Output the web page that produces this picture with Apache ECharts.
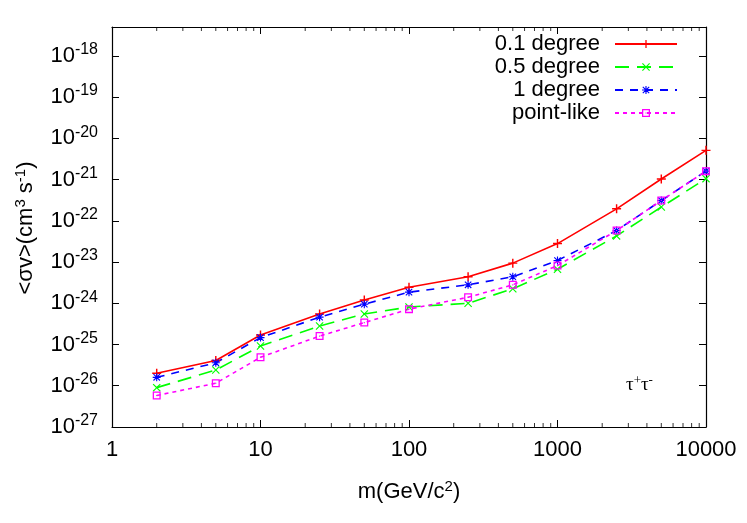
<!DOCTYPE html>
<html>
<head>
    <meta charset="utf-8">
    <title>sigma v limits</title>
    <script src="https://cdn.jsdelivr.net/npm/echarts@6.0.0/dist/echarts.min.js"></script>
</head>
<body style="margin:0">
    <div id="main" style="width: 747px;height:523px;"></div>
    <script type="text/javascript">
        // masses (GeV/c^2)
        var masses = [2, 5, 10, 25, 50, 100, 250, 500, 1000, 2500, 5000, 10000];
        // upper limits on <sigma v> (cm^3 s^-1)
        var deg01 = [2.0e-26, 4.1e-26, 1.7e-25, 5.5e-25, 1.2e-24, 2.45e-24, 4.4e-24, 9.4e-24, 2.8e-23, 1.95e-22, 1.03e-21, 5.1e-21];
        var deg05 = [9.0e-27, 2.4e-26, 9.2e-26, 2.8e-25, 5.5e-25, 8.1e-25, 1.0e-24, 2.24e-24, 6.7e-24, 4.3e-23, 2.15e-22, 1.05e-21];
        var deg1 = [1.6e-26, 3.6e-26, 1.47e-25, 4.6e-25, 9.5e-25, 1.86e-24, 2.8e-24, 4.4e-24, 1.09e-23, 5.8e-23, 3.1e-22, 1.6e-21];
        var pointLike = [5.8e-27, 1.15e-26, 4.9e-26, 1.6e-25, 3.4e-25, 7.2e-25, 1.4e-24, 2.8e-24, 8.2e-24, 5.8e-23, 3.1e-22, 1.6e-21];
        var seriesNames = ['0.1 degree', '0.5 degree', '1 degree', 'point-like'];
        // minor ticks of the mass axis
        var minorX = [2, 3, 4, 5, 6, 7, 8, 9, 20, 30, 40, 50, 60, 70, 80, 90,
                      200, 300, 400, 500, 600, 700, 800, 900, 2000, 3000, 4000, 5000, 6000, 7000, 8000, 9000];
        var xMin = 1, xMax = 10000;
        // a hair below 1e-27 so the 10^-27 tick is kept as a regular tick
        var yMin = 0.999e-27, yMax = 5e-18;

        var font = '"Liberation Sans", Arial, sans-serif';
        var serif = '"Liberation Serif", serif';
        var plusPath = 'path://M4.2,0H5.8V4.2H10V5.8H5.8V10H4.2V5.8H0V4.2H4.2Z';
        var crossPath = 'path://M0,1L1,0L5,4L9,0L10,1L6,5L10,9L9,10L5,6L1,10L0,9L4,5Z';
        var starPath = 'path://M4.3,0H5.7V4.3H10V5.7H5.7V10H4.3V5.7H0V4.3H4.3Z M0.5,1.5L1.5,0.5L5,4L8.5,0.5L9.5,1.5L6,5L9.5,8.5L8.5,9.5L5,6L1.5,9.5L0.5,8.5L4,5Z';
        var boxPath = 'path://M0,0H10V10H0Z M1.6,1.6V8.4H8.4V1.6Z M4.3,4.3H5.7V5.7H4.3Z';

        function pairs(ys) {
            return masses.map(function (m, i) { return [m, ys[i]]; });
        }
        function expOf(v) {
            var e = Math.log10(v);
            var r = Math.round(e);
            return Math.abs(e - r) < 1e-3 ? r : null;
        }

        var myChart = echarts.init(document.getElementById('main'));

        var tickStyle = { show: true, inside: true, length: 7, lineStyle: { color: '#000', width: 1 } };
        var lineAx = { show: true, onZero: false, lineStyle: { color: '#000', width: 1.2 } };

        var lineSeries = [
            { data: deg01, color: '#ff0000', dash: 'solid', symbol: plusPath, size: 9 },
            { data: deg05, color: '#00ff00', dash: [14, 8], symbol: crossPath, size: 8 },
            { data: deg1, color: '#0000ff', dash: [8, 7], symbol: starPath, size: 8 },
            { data: pointLike, color: '#ff00ff', dash: [4, 4], symbol: boxPath, size: 8 }
        ].map(function (s, i) {
            return {
                name: seriesNames[i],
                type: 'line',
                data: pairs(s.data),
                symbol: s.symbol,
                symbolSize: s.size,
                showAllSymbol: true,
                itemStyle: { color: s.color },
                lineStyle: { color: s.color, width: 1.6, type: s.dash },
                animation: false
            };
        });

        var tickSeries = [
            {
                type: 'scatter', silent: true, clip: false, animation: false,
                data: minorX.map(function (m) { return [m, yMin]; }),
                symbol: 'rect', symbolSize: [1, 4], symbolOffset: [0, -2],
                itemStyle: { color: '#000' }
            },
            {
                type: 'scatter', silent: true, clip: false, animation: false,
                data: minorX.map(function (m) { return [m, yMax]; }),
                symbol: 'rect', symbolSize: [1, 4], symbolOffset: [0, 2],
                itemStyle: { color: '#000' }
            }
        ];

        var legendTops = [33, 56, 79, 102];
        var legends = seriesNames.map(function (n, i) {
            return {
                data: [n],
                orient: 'vertical',
                align: 'right',
                right: 69,
                top: legendTops[i],
                padding: 0,
                itemWidth: 62,
                itemHeight: 10,
                selectedMode: false,
                textStyle: { fontSize: 22, color: '#000', fontFamily: font, padding: [0, 10, 0, 0] }
            };
        });

        var option = {
            animation: false,
            backgroundColor: '#fff',
            textStyle: { fontFamily: font },
            grid: { left: 112, right: 41, top: 27, bottom: 96, containLabel: false, outerBoundsMode: 'none' },
            legend: legends,
            xAxis: [
                {
                    type: 'log', logBase: 10, min: xMin, max: xMax, splitNumber: 4,
                    position: 'bottom',
                    axisLine: lineAx, axisTick: tickStyle, splitLine: { show: false },
                    axisLabel: {
                        margin: 12, fontSize: 22, color: '#000', fontFamily: font,
                        showMinLabel: true, showMaxLabel: true, hideOverlap: false,
                        formatter: function (v) {
                            var e = expOf(v);
                            return e === null ? '' : String(Math.pow(10, e));
                        }
                    },
                    name: 'm(GeV/c{sup|2})',
                    nameLocation: 'middle',
                    nameGap: 52,
                    nameMoveOverlap: false,
                    nameTextStyle: {
                        fontSize: 22, color: '#000', fontFamily: font,
                        rich: { sup: { fontSize: 15, color: '#000', fontFamily: font, padding: [0, 0, 10, 0] } }
                    }
                },
                {
                    type: 'log', logBase: 10, min: xMin, max: xMax, splitNumber: 4,
                    position: 'top',
                    axisLine: lineAx, axisTick: tickStyle, splitLine: { show: false },
                    axisLabel: { show: false }
                }
            ],
            yAxis: [
                {
                    type: 'log', logBase: 10, min: yMin, max: yMax, splitNumber: 10,
                    position: 'left',
                    axisLine: lineAx, axisTick: tickStyle, splitLine: { show: false },
                    axisLabel: {
                        margin: 14, fontSize: 22, color: '#000', fontFamily: font,
                        showMinLabel: true, hideOverlap: false,
                        formatter: function (v) {
                            var e = expOf(v);
                            return e === null ? '' : '10{sup|' + e + '}';
                        },
                        rich: { sup: { fontSize: 16, color: '#000', fontFamily: font, padding: [0, 0, 12, 0] } }
                    }
                },
                {
                    type: 'log', logBase: 10, min: yMin, max: yMax, splitNumber: 10,
                    position: 'right',
                    axisLine: lineAx, axisTick: tickStyle, splitLine: { show: false },
                    axisLabel: { show: false }
                }
            ],
            graphic: [
                {
                    // y axis title
                    type: 'text',
                    x: 26,
                    y: 228,
                    rotation: Math.PI / 2,
                    style: {
                        text: '<σv>(cm{sup|3} s{sup|-1})',
                        fontSize: 22,
                        fontFamily: font,
                        fill: '#000',
                        align: 'center',
                        verticalAlign: 'middle',
                        rich: { sup: { fontSize: 15, fontFamily: font, fill: '#000', padding: [0, 0, 10, 0] } }
                    }
                },
                {
                    type: 'text',
                    left: 626,
                    top: 374,
                    style: {
                        text: 'τ{sup|+}τ{sup|-}',
                        fontSize: 19,
                        fontFamily: serif,
                        fill: '#000',
                        rich: { sup: { fontSize: 13, fontFamily: serif, fill: '#000', padding: [0, 0, 9, 0] } }
                    }
                }
            ],
            series: lineSeries.concat(tickSeries)
        };

        myChart.setOption(option);
    </script>
</body>
</html>
